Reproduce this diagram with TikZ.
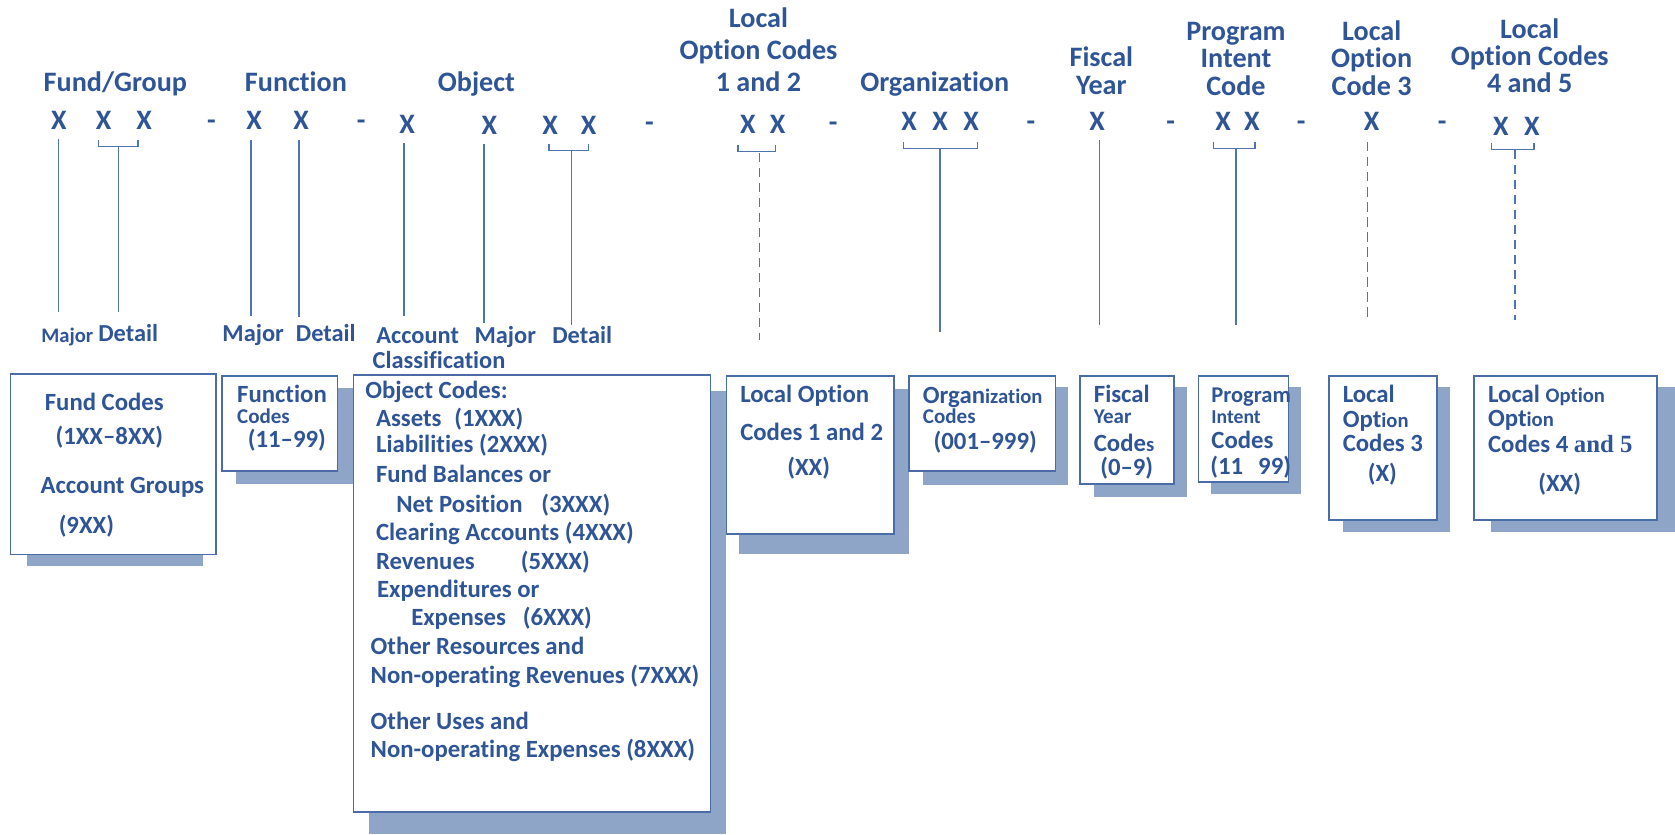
\documentclass[tikz,border=0pt]{standalone}
\usepackage{fontspec}
\setmainfont{Carlito}[Ligatures=NoCommon]
\newfontfamily\serifb{Liberation Serif}
\usetikzlibrary{fit}
\definecolor{tblue}{HTML}{2F5597}
\definecolor{lblue}{HTML}{4F74AE}
\definecolor{sblue}{HTML}{8EA5C8}
\definecolor{bblue}{HTML}{4A6DA7}
\newcommand\fs[1]{\fontsize{#1}{#1}\selectfont\bfseries}
\begin{document}
\begin{tikzpicture}[x=0.02cm,y=-0.02cm,
  every node/.style={inner sep=0pt, outer sep=0pt, text=tblue},
  hd/.style={font=\fs{15}, anchor=base},
  lb/.style={font=\fs{13}, anchor=base},
  sl/.style={font=\fs{11}, anchor=base},
  bt/.style={font=\fs{13.2}, anchor=base west},
  bs/.style={font=\fs{11.2}, anchor=base west},
  bc/.style={font=\fs{13.2}, anchor=base},
  ot/.style={font=\fs{13.2}, anchor=base west},
  ln/.style={draw=lblue, line width=0.75pt},
  dl/.style={draw=lblue, line width=0.8pt, dash pattern=on 5pt off 3pt},
  box/.style={draw=bblue, line width=0.8pt, fill=white},
  shd/.style={fill=sblue}]
\useasboundingbox (0,0) rectangle (1568,781);

% ---------- headers ----------
\node[hd] (hfund) at (108,86) {Fund/Group};
\node[hd] (hfunc) at (277,86) {Function};
\node[hd] (hobj) at (446,86) {Object};
\node[hd] (hlo1a) at (710,26) {Local};
\node[hd] (hlo1b) at (710,56) {Option Codes};
\node[hd] (hlo1c) at (710,86) {1 and 2};
\node[hd] (horg) at (875,86) {Organization};
\node[hd] (hfya) at (1031,62) {Fiscal};
\node[hd] (hfyb) at (1031,88) {Year};
\node[hd] (hpia) at (1157,38) {Program};
\node[hd] (hpib) at (1157,63) {Intent};
\node[hd] (hpic) at (1157,89) {Code};
\node[hd] (hlo3a) at (1284,38) {Local};
\node[hd] (hlo3b) at (1284,63) {Option};
\node[hd] (hlo3c) at (1284,89) {Code 3};
\node[hd] (hlo4a) at (1432,36) {Local};
\node[hd] (hlo4b) at (1432,61) {Option Codes};
\node[hd] (hlo4c) at (1432,87) {4 and 5};

% ---------- X row ----------
\node[hd] (x1) at (55,121) {X};
\node[hd] (x2) at (97,121) {X};
\node[hd] (x3) at (135,121) {X};
\node[hd] (d1) at (198,121) {-};
\node[hd] (x4) at (238,121) {X};
\node[hd] (x5) at (282,121) {X};
\node[hd] (d2) at (338,121) {-};
\node[hd] (x6) at (381,125) {X};
\node[hd] (x7) at (458,126) {X};
\node[hd] (x8) at (515,126) {X};
\node[hd] (x9) at (551,126) {X};
\node[hd] (d3) at (608,123) {-};
\node[hd] (x10) at (700,125) {X};
\node[hd] (x11) at (728,125) {X};
\node[hd] (d4) at (780,123) {-};
\node[hd] (x12) at (851,122) {X};
\node[hd] (x13) at (880,122) {X};
\node[hd] (x14) at (909,122) {X};
\node[hd] (d5) at (965,122) {-};
\node[hd] (x15) at (1027,122) {X};
\node[hd] (d6) at (1096,122) {-};
\node[hd] (x16) at (1145,122) {X};
\node[hd] (x17) at (1172,122) {X};
\node[hd] (d7) at (1218,122) {-};
\node[hd] (x18) at (1284,122) {X};
\node[hd] (d8) at (1350,122) {-};
\node[hd] (x19) at (1405,127) {X};
\node[hd] (x20) at (1434,127) {X};

% ---------- sub labels ----------
\node[sl] (lmaj1) at (63,321) {Major};
\node[lb] (ldet1) at (120,320) {Detail};
\node[lb] (lmaj2) at (237,320) {Major};
\node[lb] (ldet2) at (305,320) {Detail};
\node[lb] (lacc) at (391,322) {Account};
\node[lb] (lcls) at (411,345) {Classification};
\node[lb] (lmaj3) at (473,322) {Major};
\node[lb] (ldet3) at (545,322) {Detail};

% ---------- connector coordinates ----------
\coordinate (c1a) at (55,130);   \coordinate (c1b) at (55,292);
\coordinate (c2a) at (111,137);  \coordinate (c2b) at (111,292);
\coordinate (c3a) at (235,131);  \coordinate (c3b) at (235,296);
\coordinate (c4a) at (280,131);  \coordinate (c4b) at (280,297);
\coordinate (c5a) at (378,134);  \coordinate (c5b) at (378,296);
\coordinate (c6a) at (453,135);  \coordinate (c6b) at (453,302);
\coordinate (c7a) at (535,141);  \coordinate (c7b) at (535,304);
\coordinate (c8a) at (711,143);  \coordinate (c8b) at (711,318);
\coordinate (c9a) at (880,139);  \coordinate (c9b) at (880,311);
\coordinate (c10a) at (1029,131); \coordinate (c10b) at (1029,304);
\coordinate (c11a) at (1157,139); \coordinate (c11b) at (1157,304);
\coordinate (c12a) at (1280,133); \coordinate (c12b) at (1280,300);
\coordinate (c13a) at (1418,140); \coordinate (c13b) at (1418,300);

% brackets
\draw[ln] (92,131) -- (92,137) -- (129,137) -- (129,131);
\draw[ln] (514,135) -- (514,141) -- (551,141) -- (551,135);
\draw[ln] (691,136) -- (691,142) -- (726,142) -- (726,136);
\draw[ln] (846,133) -- (846,139) -- (915,139) -- (915,133);
\draw[ln] (1136,133) -- (1136,139) -- (1175,139) -- (1175,133);
\draw[ln] (1396,134) -- (1396,140) -- (1436,140) -- (1436,134);

% vertical connectors
\draw[ln] (c1a) -- (c1b);
\draw[ln] (c2a) -- (c2b);
\draw[ln] (c3a) -- (c3b);
\draw[ln] (c4a) -- (c4b);
\draw[ln] (c5a) -- (c5b);
\draw[ln] (c6a) -- (c6b);
\draw[ln] (c7a) -- (c7b);
\draw[dl] (c8a) -- (c8b);
\draw[ln] (c9a) -- (c9b);
\draw[ln] (c10a) -- (c10b);
\draw[ln] (c11a) -- (c11b);
\draw[dl] (c12a) -- (c12b);
\draw[dl] (c13a) -- (c13b);

% ---------- shadows ----------
\fill[shd] (25,515) rectangle (190,530);
\fill[shd] (221,363) rectangle (330,453);
\fill[shd] (345,366) rectangle (680,781);
\fill[shd] (692,364) rectangle (851,519);
\fill[shd] (864,362) rectangle (1000,454);
\fill[shd] (1024,362) rectangle (1111,465);
\fill[shd] (1134,362) rectangle (1218,462);
\fill[shd] (1257,362) rectangle (1357,498);
\fill[shd] (1396,362) rectangle (1568,498);

% ---------- boxes ----------
\node[box, fit={(10,350) (202,519)}] (bfund) {};
\node[box, fit={(208,352) (316,441)}] (bfunc) {};
\node[box, fit={(331,351) (665,760)}] (bobj) {};
\node[box, fit={(680,352) (837,500)}] (blo1) {};
\node[box, fit={(851,352) (988,441)}] (borg) {};
\node[box, fit={(1011,352) (1099,453)}] (bfy) {};
\node[box, fit={(1122,352) (1206,451)}] (bpi) {};
\node[box, fit={(1244,352) (1345,487)}] (blo3) {};
\node[box, fit={(1380,352) (1551,487)}] (blo4) {};

% ---------- box texts ----------
\node[bt] (tf1) at (42,384) {Fund Codes};
\node[bt] (tf2) at (52,416) {(1XX–8XX)};
\node[bt] (tf3) at (38,462) {Account Groups};
\node[bt] (tf4) at (55,499) {(9XX)};

\node[bt] (tu1) at (222,377) {Function};
\node[bs] (tu2) at (222,396) {Codes};
\node[bt] (tu3) at (232,419) {(11–99)};

\node[ot] (to1) at (342,373) {Object Codes:};
\node[ot] (to2) at (352,399) {Assets\hspace{6.8pt}(1XXX)};
\node[ot] (to3) at (352,424) {Liabilities (2XXX)};
\node[ot] (to4) at (352,452) {Fund Balances or};
\node[ot] (to5) at (371,480) {Net Position\hspace{10pt}(3XXX)};
\node[ot] (to6) at (352,506) {Clearing Accounts (4XXX)};
\node[ot] (to7) at (352,533) {Revenues\hspace{24.5pt}(5XXX)};
\node[ot] (to8) at (353,559) {Expenditures or};
\node[ot] (to9) at (385,586) {Expenses\hspace{9pt}(6XXX)};
\node[ot] (to10) at (347,613) {Other Resources and};
\node[ot] (to11) at (347,640) {Non-operating Revenues (7XXX)};
\node[ot] (to12) at (347,683) {Other Uses and};
\node[ot] (to13) at (347,709) {Non-operating Expenses (8XXX)};

\node[bt] (tl1) at (693,377) {Local Option};
\node[bt] (tl2) at (693,412) {Codes 1 and 2};
\node[bc] (tl3) at (757,445) {(XX)};

\node[bt] (tg1) at (864,378) {Organ{\fs{11}ization}};
\node[bs] (tg2) at (864,396) {Codes};
\node[bt] (tg3) at (874,421) {(001–999)};

\node[bt] (ty1) at (1024,377) {Fiscal};
\node[bs] (ty2) at (1024,396) {Year};
\node[bt] (ty3) at (1024,423) {Code{\fs{11}s}};
\node[bt] (ty4) at (1030,445) {(0–9)};

\node[bt, font=\fs{12}] (tp1) at (1134,377) {Program};
\node[bs, font=\fs{10.5}] (tp2) at (1134,396) {Intent};
\node[bt] (tp3) at (1134,420) {Codes};
\node[bt] (tp4) at (1133,444) {(11\hspace{8pt}99)};

\node[bt] (t31) at (1257,377) {Local};
\node[bt] (t32) at (1257,400) {Opt{\fs{11}ion}};
\node[bt] (t33) at (1257,423) {Codes 3};
\node[bc] (t34) at (1294,451) {(X)};

\node[bt] (t41) at (1393,377) {Local {\fs{11}Option}};
\node[bt] (t42) at (1393,399) {Opt{\fs{11}ion}};
\node[bt] (t43) at (1393,424) {Codes 4 {\serifb\bfseries and 5}};
\node[bc] (t44) at (1460,460) {(XX)};
\end{tikzpicture}
\end{document}
